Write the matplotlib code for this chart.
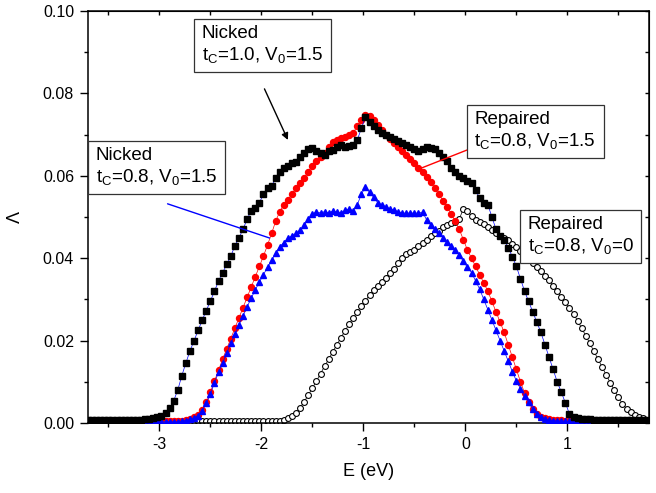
import numpy as np
import matplotlib
matplotlib.use("Agg")
import matplotlib.pyplot as plt
from matplotlib.ticker import MultipleLocator, FormatStrFormatter

plt.rcParams['font.family'] = ['Liberation Sans', 'DejaVu Sans']
plt.rcParams['axes.unicode_minus'] = False

# energy grid (eV)
E = np.linspace(-3.70, 1.78, 138)

# Lambda values, units of 1e-3
nicked_10 = [0.7, 0.7, 0.7, 0.7, 0.7, 0.7, 0.7, 0.7, 0.7, 0.7,
             0.7, 0.8, 0.8, 0.8, 0.9, 1.0, 1.2, 1.4, 1.8, 2.4,
             3.6, 5.4, 8.0, 11.5, 14.6, 17.5, 20.0, 22.5, 25.0, 27.3,
             29.6, 32.0, 34.5, 36.5, 38.5, 40.5, 43.0, 45.0, 47.0, 49.5,
             51.5, 52.3, 53.5, 55.5, 57.0, 57.5, 59.5, 61.0, 62.0, 62.3,
             63.0, 63.4, 64.5, 65.5, 66.5, 66.7, 66.0, 65.5, 65.0, 65.9,
             66.3, 67.0, 67.5, 67.0, 67.3, 67.5, 68.7, 71.5, 74.3, 73.0,
             72.0, 71.0, 70.5, 70.0, 69.5, 69.0, 68.5, 68.0, 67.5, 67.0,
             66.5, 66.0, 66.5, 67.0, 66.8, 66.5, 65.5, 64.6, 63.5, 62.0,
             61.0, 60.0, 59.5, 58.8, 58.3, 56.5, 54.5, 53.4, 53.0, 50.0,
             47.0, 45.5, 44.5, 42.5, 40.4, 38.0, 35.0, 32.0, 29.5, 27.0,
             24.5, 22.0, 19.0, 16.0, 13.0, 10.0, 7.5, 4.9, 2.2, 1.5,
             1.2, 1.0, 0.9, 0.9, 0.8, 0.8, 0.8, 0.8, 0.8, 0.7,
             0.7, 0.7, 0.7, 0.7, 0.7, 0.7, 0.7, 0.7]

repaired_15 = [0.4, 0.4, 0.4, 0.4, 0.4, 0.4, 0.4, 0.4, 0.4, 0.4,
               0.4, 0.4, 0.4, 0.4, 0.4, 0.4, 0.4, 0.4, 0.4, 0.4,
               0.4, 0.4, 0.5, 0.6, 0.8, 1.0, 1.4, 2.0, 3.2, 5.0,
               7.5, 10.2, 12.8, 15.5, 18.0, 20.5, 23.0, 25.5, 28.0, 30.5,
               33.0, 35.5, 38.0, 40.5, 43.2, 46.0, 49.0, 51.3, 53.0, 54.2,
               55.5, 57.0, 58.3, 59.5, 61.0, 62.5, 63.5, 64.5, 65.5, 67.0,
               68.3, 68.7, 69.1, 69.5, 70.0, 70.5, 72.0, 73.5, 74.8, 74.5,
               73.5, 72.3, 71.0, 70.0, 69.0, 68.0, 67.0, 66.0, 65.0, 64.0,
               63.0, 62.0, 61.0, 59.8, 58.6, 57.0, 55.5, 54.0, 52.5, 50.8,
               49.0, 47.0, 44.5, 42.0, 40.0, 38.0, 36.0, 34.0, 32.0, 29.5,
               27.0, 24.5, 22.0, 19.0, 16.0, 13.0, 10.0, 7.3, 5.0, 3.4,
               2.2, 1.5, 1.1, 0.9, 0.8, 0.7, 0.7, 0.6, 0.6, 0.5,
               0.5, 0.5, 0.5, 0.5, 0.4, 0.4, 0.4, 0.4, 0.4, 0.4,
               0.4, 0.4, 0.4, 0.4, 0.4, 0.4, 0.4, 0.4]

nicked_08 = [0.3, 0.3, 0.3, 0.3, 0.3, 0.3, 0.3, 0.3, 0.3, 0.3,
             0.3, 0.3, 0.3, 0.3, 0.3, 0.3, 0.3, 0.3, 0.3, 0.3,
             0.3, 0.3, 0.3, 0.5, 0.6, 0.9, 1.2, 1.8, 3.0, 4.8,
             7.0, 9.8, 12.3, 14.6, 17.0, 19.3, 21.5, 23.8, 26.0, 28.2,
             30.3, 32.3, 34.2, 36.0, 37.8, 39.5, 41.2, 42.8, 43.8, 44.8,
             45.5, 46.0, 46.8, 48.0, 49.5, 50.8, 51.2, 51.0, 51.3, 51.0,
             51.5, 51.2, 51.0, 51.6, 52.0, 51.5, 53.0, 55.5, 57.3, 56.0,
             54.8, 53.5, 53.0, 52.5, 52.0, 51.7, 51.3, 51.0, 50.9, 51.0,
             50.9, 51.0, 51.2, 49.3, 48.0, 47.0, 46.0, 45.0, 44.0, 43.0,
             42.0, 40.8, 39.2, 37.8, 36.5, 34.5, 32.5, 30.0, 27.5, 25.0,
             22.5, 20.0, 17.5, 15.0, 12.5, 10.2, 8.3, 6.5, 5.0, 3.4,
             2.2, 1.4, 1.0, 0.8, 0.6, 0.5, 0.5, 0.4, 0.4, 0.4,
             0.3, 0.3, 0.3, 0.3, 0.3, 0.3, 0.3, 0.3, 0.3, 0.3,
             0.3, 0.3, 0.3, 0.3, 0.3, 0.3, 0.3, 0.3]

repaired_0 = [0.3, 0.3, 0.3, 0.3, 0.3, 0.3, 0.3, 0.3, 0.3, 0.3,
              0.3, 0.3, 0.3, 0.3, 0.3, 0.3, 0.3, 0.3, 0.3, 0.3,
              0.3, 0.3, 0.3, 0.3, 0.3, 0.4, 0.4, 0.4, 0.4, 0.4,
              0.4, 0.4, 0.4, 0.4, 0.4, 0.4, 0.4, 0.4, 0.4, 0.4,
              0.4, 0.5, 0.5, 0.5, 0.5, 0.5, 0.5, 0.6, 0.8, 1.1,
              1.6, 2.5, 3.7, 5.2, 6.8, 8.5, 10.2, 12.0, 13.8, 15.5,
              17.3, 19.0, 20.7, 22.4, 24.0, 25.5, 27.0, 28.4, 29.7, 31.0,
              32.2, 33.3, 34.3, 35.3, 36.3, 37.3, 38.8, 40.0, 41.0, 41.6,
              42.0, 43.0, 43.8, 44.4, 45.4, 46.0, 46.6, 47.5, 48.0, 48.5,
              48.8, 49.5, 52.0, 51.5, 50.2, 49.2, 48.8, 48.3, 47.6, 46.8,
              46.0, 45.3, 44.9, 44.3, 43.5, 42.8, 41.8, 40.8, 39.8, 38.8,
              37.8, 36.8, 35.8, 34.8, 33.3, 32.0, 30.7, 29.3, 28.0, 26.5,
              24.8, 23.0, 21.2, 19.3, 17.4, 15.5, 13.6, 11.7, 9.8, 8.0,
              6.2, 4.7, 3.5, 2.7, 1.9, 1.4, 1.1, 0.8]

W, H = 656, 493
fig = plt.figure(figsize=(W / 100, H / 100), dpi=100)
ax = fig.add_axes([88 / W, 70 / H, (649 - 88) / W, (423 - 11) / H])

ms = 1e-3
ax.plot(E, np.array(repaired_0) * ms, '-', color='k', lw=0.5, marker='o', ms=4.2,
        mfc='white', mec='k', mew=0.8, zorder=2)
ax.plot(E, np.array(repaired_15) * ms, '-', color='red', lw=0.5, marker='o', ms=4.3,
        mfc='red', mec='red', zorder=3)
ax.plot(E, np.array(nicked_08) * ms, '-', color='blue', lw=0.5, marker='^', ms=4.8,
        mfc='blue', mec='blue', zorder=4)
ax.plot(E, np.array(nicked_10) * ms, '-', color='blue', lw=0.5, marker='s', ms=3.8,
        mfc='black', mec='black', zorder=5)

ax.set_xlim(-3.7, 1.8)
ax.set_ylim(0, 0.10)
ax.xaxis.set_major_locator(MultipleLocator(1))
ax.xaxis.set_minor_locator(MultipleLocator(0.5))
ax.yaxis.set_major_locator(MultipleLocator(0.02))
ax.yaxis.set_minor_locator(MultipleLocator(0.01))
ax.yaxis.set_major_formatter(FormatStrFormatter('%.2f'))
ax.tick_params(which='major', direction='out', length=6, width=1, labelsize=11.5, pad=4)
ax.tick_params(which='minor', direction='out', length=3, width=1)
for s in ax.spines.values():
    s.set_linewidth(1.1)

# mirrored ticks on top / right, pointing inward
top = ax.secondary_xaxis('top')
top.xaxis.set_major_locator(MultipleLocator(1))
top.xaxis.set_minor_locator(MultipleLocator(0.5))
top.tick_params(which='both', direction='in', length=3, width=1, labeltop=False)
right = ax.secondary_yaxis('right')
right.yaxis.set_major_locator(MultipleLocator(0.02))
right.yaxis.set_minor_locator(MultipleLocator(0.01))
right.tick_params(which='both', direction='in', length=3, width=1, labelright=False)

ax.set_xlabel('E (eV)', fontsize=13, labelpad=8)
ax.set_ylabel('Λ', fontsize=13, labelpad=14)

# annotation boxes
def box(px, py, s):
    fig.text(px / W, 1 - py / H, s, ha='left', va='top', fontsize=13.5,
             linespacing=1.15, zorder=10,
             bbox=dict(boxstyle='square,pad=0.4', fc='white', ec='#333333', lw=0.9))

box(201.5, 25.5, 'Nicked\n$\\mathregular{t_C}$=1.0, $\\mathregular{V_0}$=1.5')
box(95.5, 147.5, 'Nicked\n$\\mathregular{t_C}$=0.8, $\\mathregular{V_0}$=1.5')
box(474.5, 111.5, 'Repaired\n$\\mathregular{t_C}$=0.8, $\\mathregular{V_0}$=1.5')
box(527.5, 216.5, 'Repaired\n$\\mathregular{t_C}$=0.8, $\\mathregular{V_0}$=0')

ax.annotate('', xy=(-1.74, 0.0687), xytext=(-1.97, 0.0811),
            arrowprops=dict(arrowstyle='-|>', color='k', lw=1.0, mutation_scale=10,
                            shrinkA=0, shrinkB=0), zorder=8)
ax.annotate('', xy=(-1.92, 0.0449), xytext=(-2.92, 0.0532),
            arrowprops=dict(arrowstyle='-', color='blue', lw=1.0,
                            shrinkA=0, shrinkB=0), zorder=8)
ax.annotate('', xy=(-0.47, 0.0615), xytext=(0.02, 0.0663),
            arrowprops=dict(arrowstyle='-', color='red', lw=1.0,
                            shrinkA=0, shrinkB=0), zorder=8)

fig.savefig('out.png', dpi=100)
